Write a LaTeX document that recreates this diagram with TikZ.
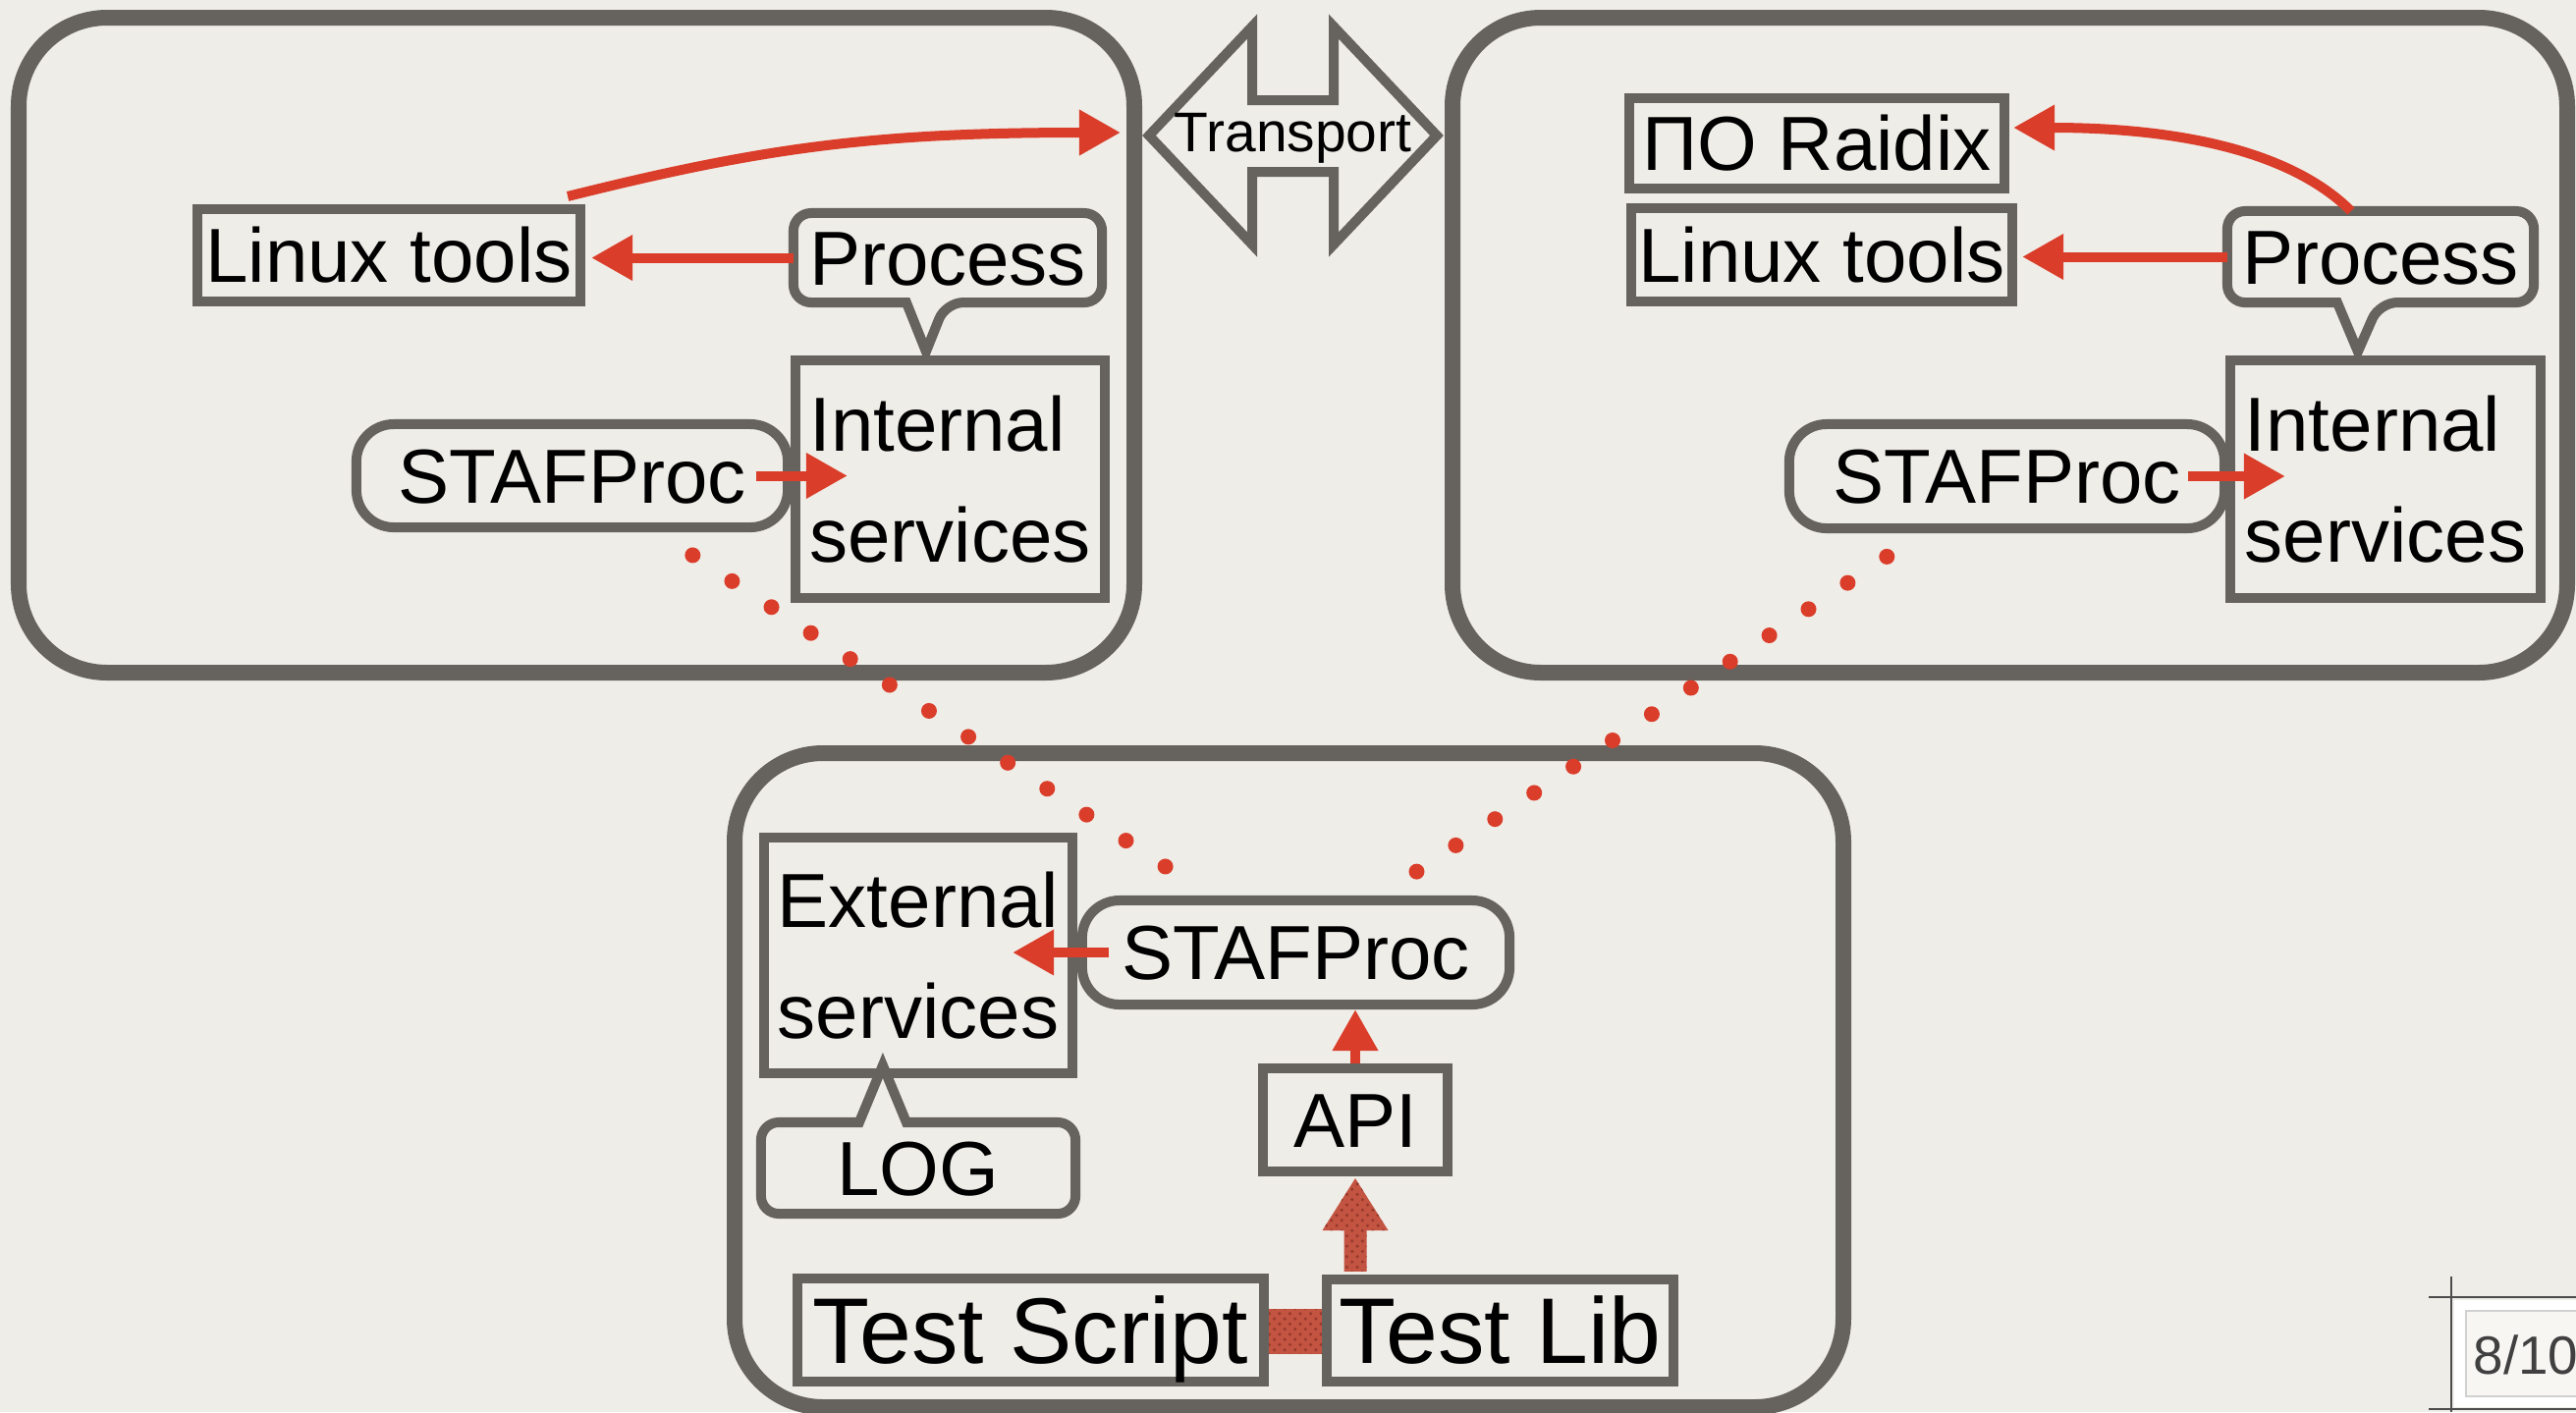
\documentclass[tikz,border=0pt]{standalone}
\usepackage{fontspec}
\setmainfont{Liberation Sans}
\usetikzlibrary{arrows.meta,calc,patterns}

\definecolor{paper}{RGB}{239,237,232}
\definecolor{frame}{RGB}{102,99,94}
\definecolor{accent}{RGB}{218,62,42}
\definecolor{brick}{RGB}{196,84,66}
\definecolor{brickdot}{RGB}{150,58,44}

\newcommand{\labelfont}{\fontsize{22.2pt}{32.2pt}\selectfont}
\newcommand{\largelabelfont}{\fontsize{27pt}{32pt}\selectfont}
\newcommand{\smalllabelfont}{\fontsize{16.2pt}{20pt}\selectfont}

\tikzset{
  outline/.style={draw=frame, line width=0.1cm},
  panel/.style={draw=frame, line width=0.16cm, rounded corners=0.9cm},
  box/.style={outline, rectangle, inner sep=0pt, font=\labelfont, text height=15.9pt, text depth=0pt},
  pill/.style={box, rounded corners=0.38cm},
  callout/.style={rectangle, inner sep=0pt, outer sep=0pt, font=\labelfont, text height=15.9pt, text depth=0pt},
  twoline/.style={align=left, text height=48.1pt, text depth=0pt},
  bigger/.style={font=\largelabelfont, text height=19.3pt},
  redarrow/.style={draw=accent, line width=0.1cm, -{Triangle[length=0.42cm, width=0.44cm]}},
  dotline/.style={draw=accent, line width=0.16cm, line cap=round, dash pattern=on 0pt off 0.48cm},
  texture/.style={fill=brick, postaction={pattern=crosshatch dots, pattern color=brickdot}}
}

\begin{document}
\begin{tikzpicture}[x=0.01cm, y=-0.01cm]
\useasboundingbox (0,0) rectangle (2623,1438);
\fill[paper] (0,0) rectangle (2623,1438);

% three host panels
\draw[panel] (19,18) rectangle (1155,685);
\draw[panel] (1479,18) rectangle (2614,685);
\draw[panel] (748,767) rectangle (1877,1433);

% transport double arrow between the hosts
\coordinate (tL) at (1170,138);
\coordinate (tR) at (1463,138);
\draw[outline, line join=miter] (tL) -- (1275,27) -- (1275,102) -- (1358,102) -- (1358,27) -- (tR)
  -- (1358,249) -- (1358,175) -- (1275,175) -- (1275,249) -- cycle;
\node[font=\smalllabelfont, text height=11.6pt, text depth=0pt, inner sep=0pt] (transport) at (1316.5,134) {Transport};

% left host
\node[box, minimum width=3.9cm, minimum height=0.94cm] (lt1) at (396,260) {Linux tools};
\node[callout, minimum width=3.14cm, minimum height=0.91cm] (pr1) at (965,262.5) {Process};
\node[box, twoline, minimum width=3.15cm, minimum height=2.41cm] (in1) at (967.5,488) {Internal\\services};
\node[pill, minimum width=4.39cm, minimum height=1.05cm] (st1) at (582.5,484.5) {STAFProc};

% right host
\node[box, minimum width=3.82cm, minimum height=0.92cm] (rx) at (1850,146) {ПО Raidix};
\node[box, minimum width=3.88cm, minimum height=0.95cm] (lt2) at (1855,259.5) {Linux tools};
\node[callout, minimum width=3.12cm, minimum height=0.93cm] (pr2) at (2424,261.5) {Process};
\node[box, twoline, minimum width=3.16cm, minimum height=2.41cm] (in2) at (2429,488) {Internal\\services};
\node[pill, minimum width=4.43cm, minimum height=1.06cm] (st2) at (2043.5,485) {STAFProc};

% test host
\node[box, twoline, minimum width=3.14cm, minimum height=2.40cm] (ext) at (935,973) {External\\services};
\node[pill, minimum width=4.35cm, minimum height=1.06cm] (st3) at (1319.5,970) {STAFProc};
\node[callout, minimum width=3.2cm, minimum height=0.93cm] (log) at (935,1189.5) {LOG};
\node[box, minimum width=1.88cm, minimum height=1.05cm] (api) at (1380,1140.5) {API};
\node[box, bigger, minimum width=4.75cm, minimum height=1.05cm] (ts) at (1049.5,1354.5) {Test Script};
\node[box, bigger, minimum width=3.53cm, minimum height=1.04cm] (tl) at (1527.5,1355) {Test Lib};

% speech-bubble outlines
\draw[outline, rounded corners=0.18cm] (pr1.north) -- (pr1.north east) -- (pr1.south east)
  -- ($(pr1.south west)+(155,0)$) [sharp corners] -- ($(pr1.south west)+(135,50)$)
  -- ($(pr1.south west)+(115,0)$) [rounded corners=0.18cm] -- (pr1.south west) -- (pr1.north west) -- cycle;
\draw[outline, rounded corners=0.18cm] (pr2.north) -- (pr2.north east) -- (pr2.south east)
  -- ($(pr2.south west)+(155,0)$) [sharp corners] -- ($(pr2.south west)+(133,50)$)
  -- ($(pr2.south west)+(112,0)$) [rounded corners=0.18cm] -- (pr2.south west) -- (pr2.north west) -- cycle;
\draw[outline, rounded corners=0.18cm] (log.south) -- (log.south west) -- (log.north west)
  [sharp corners] -- ($(log.north west)+(100,0)$) -- ($(log.north west)+(124,-58)$)
  -- ($(log.north west)+(148,0)$) [rounded corners=0.18cm] -- (log.north east) -- (log.south east) -- cycle;

% calls inside the hosts
\draw[redarrow, shorten >=0.06cm] (pr1.west) -- (pr1.west -| lt1.east);
\draw[redarrow] ($(st1.east)+(-37,0)$) -- ($(st1.east -| in1.west)+(58,0)$);
\draw[redarrow] ($(lt1.north east)+(-18,-8)$) .. controls +(200,-50) and +(-250,0) .. ($(tL)+(-29,-3)$);

\draw[redarrow, shorten >=0.05cm] (pr2.west) -- (pr2.west -| lt2.east);
\draw[redarrow] ($(st2.east)+(-42,0)$) -- ($(st2.east -| in2.west)+(61,0)$);
\draw[redarrow] ($(pr2.north west)+(126,0)$) .. controls +(-70,-70) and +(140,0) .. ($(rx.east)+(4,-16)$);

\draw[redarrow] ($(st3.west)+(32,0)$) -- ($(st3.west -| ext.east)+(-66,0)$);
\draw[redarrow] (api.north) -- (api.north |- st3.south);

% STAF links between the hosts
\draw[dotline, shorten <=1.47cm, shorten >=1.53cm] (st1.center) -- (st3.center);
\draw[dotline, shorten <=1.47cm, shorten >=1.46cm] (st2.center) -- (st3.center);

% library bindings
\path[texture] ($(ts.east)+(0,-21.5)$) rectangle ($(tl.west)+(0,23.5)$);
\coordinate (libtop) at (api.south |- tl.north);
\path[texture] ($(libtop)+(-11.5,-3)$) -- ($(api.south)+(-11.5,55)$) -- ($(api.south)+(-33.5,55)$)
  -- ($(api.south)+(0,2)$) -- ($(api.south)+(33.5,55)$) -- ($(api.south)+(11.5,55)$)
  -- ($(libtop)+(11.5,-3)$) -- cycle;

% page counter
\fill[white] (2499,1324) rectangle (2623,1433);
\draw[black!18, line width=0.3pt, fill=paper!50!white] (2511,1335) rectangle (2660,1422);
\node[anchor=base west, inner sep=0pt, font=\fontsize{15.6pt}{18pt}\selectfont, text=black!75] (pagenum) at (2518,1399) {8/10};
\draw[black!70, line width=0.7pt] (2496,1300) -- (2496,1438);
\draw[black!70, line width=0.7pt] (2473,1321) -- (2623,1321);
\draw[black!70, line width=0.7pt] (2473,1435) -- (2623,1435);
\end{tikzpicture}
\end{document}
